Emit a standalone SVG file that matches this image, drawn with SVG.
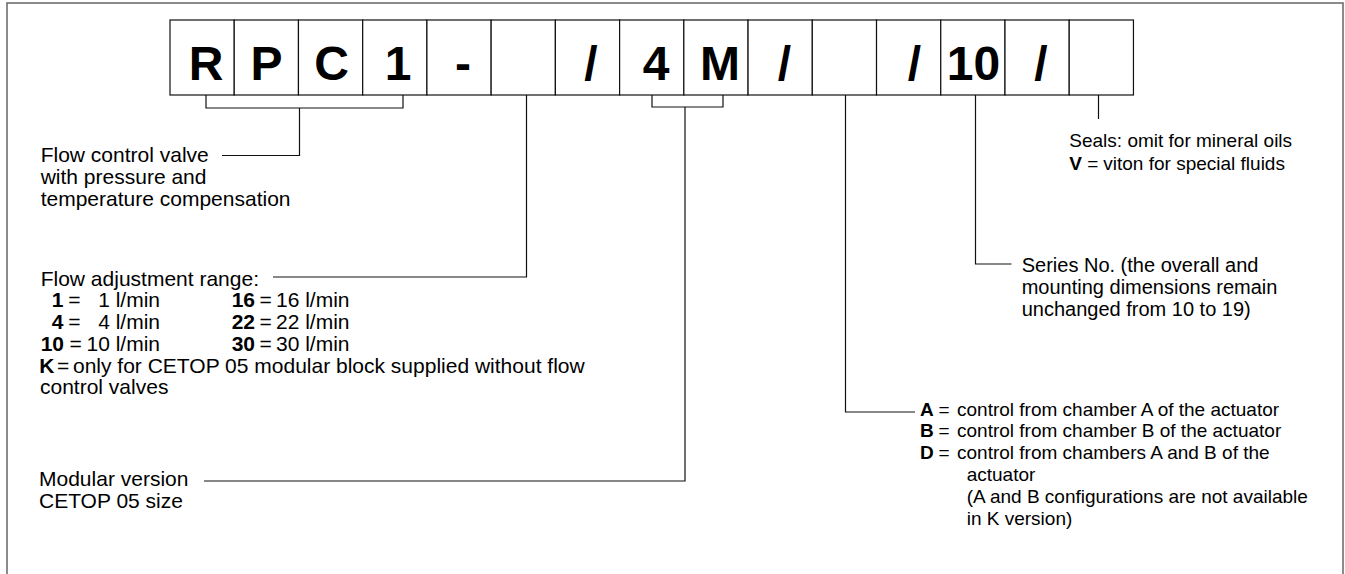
<svg xmlns="http://www.w3.org/2000/svg" width="1345" height="574" viewBox="0 0 1345 574">
<style>
.frame{fill:none;stroke:#666;stroke-width:1.5}
.box{fill:#fff;stroke:#111;stroke-width:1.2}
.code{font-family:"Liberation Sans",Arial,sans-serif;font-weight:bold;font-size:48px;fill:#000;text-anchor:middle}
.conn{fill:none;stroke:#111;stroke-width:1.2}
.t{font-family:"Liberation Sans",Arial,sans-serif;font-size:21px;fill:#000}
.s19{font-size:19px}
.s20{font-size:20px}
.b{font-weight:bold}
.end{text-anchor:end}
</style>
<rect width="1345" height="574" fill="#fff"/>
<path class="frame" d="M7,574 V3 H1343 V574"/>

<g id="code">
  <g id="box-R"><rect class="box" x="170" y="20" width="64.23" height="75"/><text class="code" x="206" y="80">R</text></g>
  <g id="box-P"><rect class="box" x="234.23" y="20" width="64.23" height="75"/><text class="code" x="266.5" y="80">P</text></g>
  <g id="box-C"><rect class="box" x="298.46" y="20" width="64.23" height="75"/><text class="code" x="331.5" y="80">C</text></g>
  <g id="box-1"><rect class="box" x="362.69" y="20" width="64.23" height="75"/><text class="code" x="398" y="80">1</text></g>
  <g id="box-dash"><rect class="box" x="426.92" y="20" width="64.23" height="75"/><text class="code" x="463" y="80">-</text></g>
  <g id="box-flow"><rect class="box" x="491.15" y="20" width="64.23" height="75"/></g>
  <g id="box-slash1"><rect class="box" x="555.38" y="20" width="64.23" height="75"/><text class="code" x="591" y="80">/</text></g>
  <g id="box-4"><rect class="box" x="619.61" y="20" width="64.23" height="75"/><text class="code" x="656" y="80">4</text></g>
  <g id="box-M"><rect class="box" x="683.84" y="20" width="64.23" height="75"/><text class="code" x="720" y="80">M</text></g>
  <g id="box-slash2"><rect class="box" x="748.07" y="20" width="64.23" height="75"/><text class="code" x="784.5" y="80">/</text></g>
  <g id="box-control"><rect class="box" x="812.3" y="20" width="64.23" height="75"/></g>
  <g id="box-slash3"><rect class="box" x="876.53" y="20" width="64.23" height="75"/><text class="code" x="914.5" y="80">/</text></g>
  <g id="box-10"><rect class="box" x="940.76" y="20" width="64.23" height="75"/><text class="code" x="973.5" y="80">10</text></g>
  <g id="box-slash4"><rect class="box" x="1004.99" y="20" width="64.23" height="75"/><text class="code" x="1041" y="80">/</text></g>
  <g id="box-seals"><rect class="box" x="1069.22" y="20" width="64.23" height="75"/></g>
</g>

<g id="connectors">
  <path class="conn" d="M206,95 V108 H403 V95"/>
  <path class="conn" d="M299.5,108 V155.5 H222"/>
  <path class="conn" d="M526.5,95 V277 H273"/>
  <path class="conn" d="M652,95 V107 H723 V95"/>
  <path class="conn" d="M685,107 V481 H204"/>
  <path class="conn" d="M845.5,95 V412 H915"/>
  <path class="conn" d="M975.5,95 V264 H1011.5"/>
  <path class="conn" d="M1098.5,95 V119"/>
</g>

<g id="label-valve" class="t">
  <text x="40.7" y="162.3">Flow control valve</text>
  <text x="40.7" y="184">with pressure and</text>
  <text x="40.7" y="205.7">temperature compensation</text>
</g>

<g id="label-flow" class="t">
  <text x="40.7" y="285.7">Flow adjustment range:</text>
  <text x="51.7" y="307.4" class="b">1</text><text x="68.3" y="307.4">=</text><text x="160" y="307.4" class="end">1 l/min</text>
  <text x="51.7" y="329.1" class="b">4</text><text x="68.3" y="329.1">=</text><text x="160" y="329.1" class="end">4 l/min</text>
  <text x="40.7" y="350.8" class="b">10</text><text x="69.5" y="350.8">=</text><text x="160" y="350.8" class="end">10 l/min</text>
  <text x="231.7" y="307.4" class="b">16</text><text x="259.5" y="307.4">=</text><text x="276" y="307.4">16 l/min</text>
  <text x="231.7" y="329.1" class="b">22</text><text x="259.5" y="329.1">=</text><text x="276" y="329.1">22 l/min</text>
  <text x="231.7" y="350.8" class="b">30</text><text x="259.5" y="350.8">=</text><text x="276" y="350.8">30 l/min</text>
  <text x="39.3" y="372.5" class="b">K</text><text x="57" y="372.5">=</text><text x="73" y="372.5">only for CETOP 05 modular block supplied without flow</text>
  <text x="40" y="394.2">control valves</text>
</g>

<g id="label-modular" class="t">
  <text x="39" y="485.7">Modular version</text>
  <text x="39" y="508">CETOP 05 size</text>
</g>

<g id="label-seals" class="t s19">
  <text x="1069.3" y="147">Seals: omit for mineral oils</text>
  <text x="1069.3" y="169.5" class="b">V</text><text x="1087.3" y="169.5">=</text><text x="1103.3" y="169.5">viton for special fluids</text>
</g>

<g id="label-series" class="t s20">
  <text x="1021.7" y="271.5">Series No. (the overall and</text>
  <text x="1021.7" y="293.5">mounting dimensions remain</text>
  <text x="1021.7" y="315.5">unchanged from 10 to 19)</text>
</g>

<g id="label-control" class="t s19">
  <text x="920" y="415.7" class="b">A</text><text x="938.5" y="415.7">=</text><text x="957" y="415.7">control from chamber A of the actuator</text>
  <text x="920" y="437.4" class="b">B</text><text x="938.5" y="437.4">=</text><text x="957" y="437.4">control from chamber B of the actuator</text>
  <text x="920" y="459.1" class="b">D</text><text x="938.5" y="459.1">=</text><text x="957" y="459.1">control from chambers A and B of the</text>
  <text x="966.7" y="480.8">actuator</text>
  <text x="966.7" y="503">(A and B configurations are not available</text>
  <text x="966.7" y="525.2">in K version)</text>
</g>
</svg>
